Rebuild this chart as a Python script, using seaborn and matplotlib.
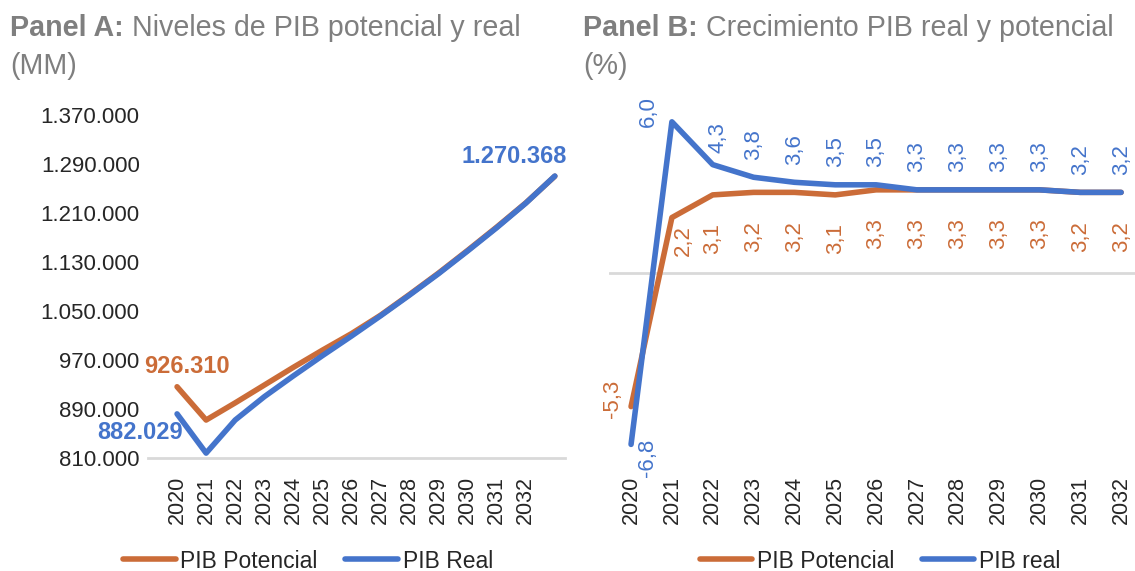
import numpy as np
import pandas as pd
import matplotlib
matplotlib.use("Agg")
import matplotlib.pyplot as plt
import seaborn as sns

# datos
anios_a = list(range(2020, 2034))
pib_potencial_nivel = [926310, 872000, 900000, 929000, 958000, 986000, 1013000,
                       1043000, 1077000, 1112000, 1149000, 1187000, 1226500, 1270000]
pib_real_nivel = [882029, 818000, 872000, 910000, 944000, 977000, 1009000,
                  1042000, 1076000, 1111000, 1148000, 1186000, 1226000, 1270368]

anios_b = list(range(2020, 2033))
crec_potencial = [-5.3, 2.2, 3.1, 3.2, 3.2, 3.1, 3.3, 3.3, 3.3, 3.3, 3.3, 3.2, 3.2]
crec_real = [-6.8, 6.0, 4.3, 3.8, 3.6, 3.5, 3.5, 3.3, 3.3, 3.3, 3.3, 3.2, 3.2]

yticks_a = [810000, 890000, 970000, 1050000, 1130000, 1210000, 1290000, 1370000]
xticks = list(range(2020, 2033))

NARANJA = "#CB6C38"
AZUL = "#4474CB"
GRIS = "#7F7F7F"
TEXTO = "#262626"

sns.set_theme(style="white")
plt.rcParams["font.family"] = ["Liberation Sans", "DejaVu Sans"]

fig = plt.figure(figsize=(11.35, 5.71), dpi=100)
W, H = 1135, 571


def caja(x0, y0, x1, y1):
    return [x0 / W, 1 - y1 / H, (x1 - x0) / W, (y1 - y0) / H]


def titulo(x, y, negrita, resto, linea2):
    r = fig.canvas.get_renderer()
    t = fig.text(x / W, 1 - y / H, negrita, fontsize=20.6, fontweight="bold",
                 color=GRIS, va="center", ha="left")
    bb = t.get_window_extent(renderer=r)
    fig.text(bb.x1 / W, 1 - y / H, " " + resto, fontsize=20.6, color=GRIS,
             va="center", ha="left")
    fig.text(x / W, 1 - (y + 38) / H, linea2, fontsize=20.6, color=GRIS,
             va="center", ha="left")


# ---------------- Panel A ----------------
axA = fig.add_axes(caja(148, 115, 565, 458))
dfA = pd.DataFrame({"anio": anios_a, "pot": pib_potencial_nivel, "real": pib_real_nivel})
sns.lineplot(data=dfA, x="anio", y="pot", color=NARANJA, lw=4, label="PIB Potencial",
             ax=axA, solid_capstyle="round")
sns.lineplot(data=dfA, x="anio", y="real", color=AZUL, lw=4, label="PIB Real",
             ax=axA, solid_capstyle="round")
axA.set_xlim(2019.0, 2033.35)
axA.set_ylim(810000, 1370000)
axA.set_yticks(yticks_a)
axA.set_yticklabels([f"{v:,}".replace(",", ".") for v in yticks_a], fontsize=16, color=TEXTO)
axA.set_xticks(xticks)
axA.set_xticklabels([str(a) for a in xticks], rotation=90, fontsize=15.5, color=TEXTO)
axA.tick_params(axis="y", length=0, pad=6)
axA.tick_params(axis="x", length=0, pad=13)
axA.set_xlabel("")
axA.set_ylabel("")
for s in ["top", "right", "left"]:
    axA.spines[s].set_visible(False)
axA.spines["bottom"].set_color("#D9D9D9")
axA.spines["bottom"].set_linewidth(2)

axA.annotate(f"{pib_potencial_nivel[0]:,}".replace(",", "."), (anios_a[0], pib_potencial_nivel[0]),
             xytext=(10, 20), textcoords="offset pixels", ha="center", va="center",
             fontsize=17, fontweight="bold", color=NARANJA)
axA.annotate(f"{pib_real_nivel[0]:,}".replace(",", "."), (anios_a[0], pib_real_nivel[0]),
             xytext=(6, -19), textcoords="offset pixels", ha="right", va="center",
             fontsize=17, fontweight="bold", color=AZUL)
axA.annotate(f"{pib_real_nivel[-1]:,}".replace(",", "."), (anios_a[-1], pib_real_nivel[-1]),
             xytext=(12, 20), textcoords="offset pixels", ha="right", va="center",
             fontsize=17, fontweight="bold", color=AZUL)

axA.legend(loc="center", bbox_to_anchor=(308 / W, 1 - 561 / H), bbox_transform=fig.transFigure,
           ncol=2, frameon=False, fontsize=16.5, handlelength=2.3, handletextpad=0.2,
           columnspacing=1.2, labelcolor=TEXTO)

# ---------------- Panel B ----------------
axB = fig.add_axes(caja(609, 115, 1135, 458))
dfB = pd.DataFrame({"anio": anios_b, "pot": crec_potencial, "real": crec_real})
sns.lineplot(data=dfB, x="anio", y="pot", color=NARANJA, lw=4, label="PIB Potencial",
             ax=axB, solid_capstyle="round")
sns.lineplot(data=dfB, x="anio", y="real", color=AZUL, lw=4, label="PIB real",
             ax=axB, solid_capstyle="round")
axB.axhline(0, color="#D9D9D9", lw=2, zorder=0)
axB.set_xlim(2019.46, 2032.34)
axB.set_ylim(-7.34, 6.27)
axB.set_yticks([])
axB.set_xticks(xticks)
axB.set_xticklabels([str(a) for a in xticks], rotation=90, fontsize=15.5, color=TEXTO)
axB.tick_params(axis="x", length=0, pad=13)
axB.set_xlabel("")
axB.set_ylabel("")
for s in axB.spines.values():
    s.set_visible(False)

# posiciones de etiquetas (pixeles)
off_real = [(16, -13), (-24, 10), (5, 27)] + [(0, 33)] * 10
off_pot = [(-19, 8), (11, -23)] + [(0, -44)] * 11
for a, v, o in zip(anios_b, crec_real, off_real):
    axB.annotate(f"{v:.1f}".replace(".", ","), (a, v), xytext=o, textcoords="offset pixels",
                 ha="center", va="center", rotation=90, fontsize=16, color=AZUL)
for a, v, o in zip(anios_b, crec_potencial, off_pot):
    axB.annotate(f"{v:.1f}".replace(".", ","), (a, v), xytext=o, textcoords="offset pixels",
                 ha="center", va="center", rotation=90, fontsize=16, color=NARANJA)

axB.legend(loc="center", bbox_to_anchor=(880 / W, 1 - 561 / H), bbox_transform=fig.transFigure,
           ncol=2, frameon=False, fontsize=16.5, handlelength=2.3, handletextpad=0.2,
           columnspacing=1.2, labelcolor=TEXTO)

titulo(10, 28, "Panel A:", "Niveles de PIB potencial y real", "(MM)")
titulo(583, 28, "Panel B:", "Crecimiento PIB real y potencial", "(%)")

fig.savefig("out.png", dpi=100)
